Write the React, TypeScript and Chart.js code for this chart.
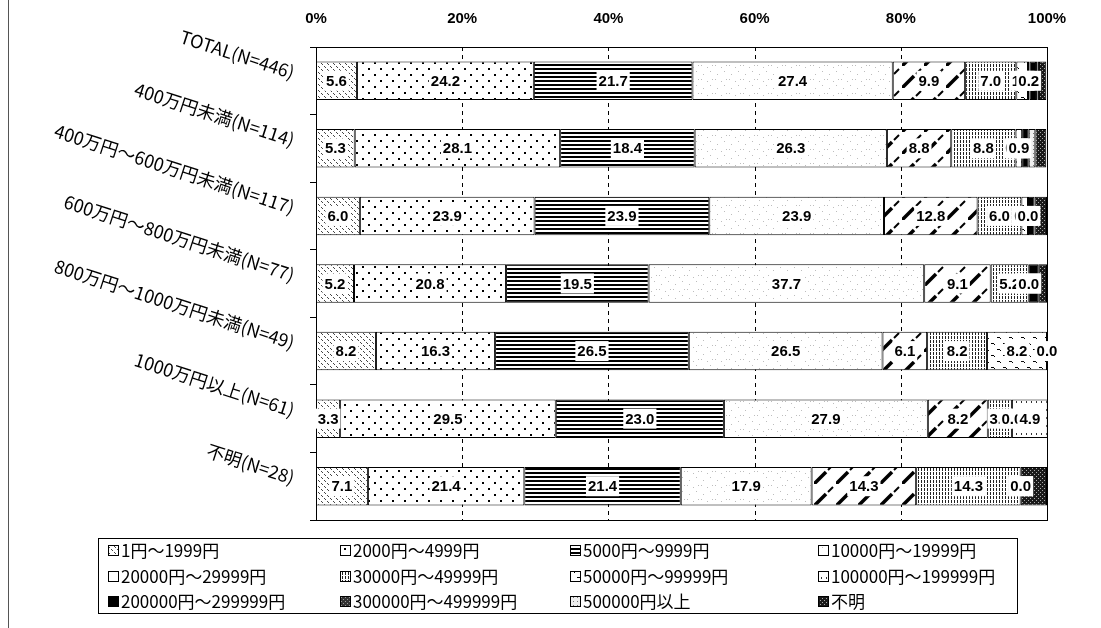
import React, { useEffect, useRef } from 'react';
import { Chart, registerables } from 'chart.js';

Chart.register(...registerables);

// ---------- data ----------
const categories = [
  'TOTAL(N=446)',
  '400万円未満(N=114)',
  '400万円～600万円未満(N=117)',
  '600万円～800万円未満(N=77)',
  '800万円～1000万円未満(N=49)',
  '1000万円以上(N=61)',
  '不明(N=28)',
];

const seriesNames = [
  '1円～1999円',
  '2000円～4999円',
  '5000円～9999円',
  '10000円～19999円',
  '20000円～29999円',
  '30000円～49999円',
  '50000円～99999円',
  '100000円～199999円',
  '200000円～299999円',
  '300000円～499999円',
  '500000円以上',
  '不明',
];

const yen1to1999 = [5.6, 5.3, 6.0, 5.2, 8.2, 3.3, 7.1];
const yen2000to4999 = [24.2, 28.1, 23.9, 20.8, 16.3, 29.5, 21.4];
const yen5000to9999 = [21.7, 18.4, 23.9, 19.5, 26.5, 23.0, 21.4];
const yen10000to19999 = [27.4, 26.3, 23.9, 37.7, 26.5, 27.9, 17.9];
const yen20000to29999 = [9.9, 8.8, 12.8, 9.1, 6.1, 8.2, 14.3];
const yen30000to49999 = [7.0, 8.8, 6.0, 5.2, 8.2, 3.3, 14.3];
const yen50000to99999 = [1.6, 0.0, 0.9, 0.0, 8.2, 0.0, 0.0];
const yen100000to199999 = [0.2, 0.9, 0.0, 0.0, 0.0, 4.9, 0.0];
const yen200000to299999 = [0.9, 0.9, 0.9, 1.3, 0.0, 0.0, 0.0];
const yen300000to499999 = [0.2, 0.0, 0.0, 0.0, 0.0, 0.0, 0.0];
const yen500000plus = [0.2, 0.9, 0.0, 0.0, 0.0, 0.0, 0.0];
const yenUnknown = [1.0, 1.5, 1.7, 1.2, 0.0, 0.0, 3.6];

const seriesValues = [
  yen1to1999, yen2000to4999, yen5000to9999, yen10000to19999,
  yen20000to29999, yen30000to49999, yen50000to99999, yen100000to199999,
  yen200000to299999, yen300000to499999, yen500000plus, yenUnknown,
];

const xTicks = [0, 20, 40, 60, 80, 100];
const labelledSeriesCount = 8;

// ---------- patterns ----------
function makePattern(w: number, h: number, bg: string, draw: (c: CanvasRenderingContext2D) => void): CanvasPattern | string {
  const cv = document.createElement('canvas');
  cv.width = w;
  cv.height = h;
  const c = cv.getContext('2d');
  if (!c) return bg;
  c.fillStyle = bg;
  c.fillRect(0, 0, w, h);
  draw(c);
  return c.createPattern(cv, 'repeat') || bg;
}

function buildPatterns() {
  const px = (c: CanvasRenderingContext2D, col: string, pts: number[][]) => {
    c.fillStyle = col;
    pts.forEach(([x, y, w = 1, h = 1]) => c.fillRect(x, y, w, h));
  };
  return [
    makePattern(6, 6, '#fff', (c) => px(c, '#444', [[0, 0], [1, 1], [3, 3], [4, 4]])),
    makePattern(12, 12, '#fff', (c) => px(c, '#000', [[2, 2, 2, 2], [8, 8, 2, 2]])),
    makePattern(4, 4, '#fff', (c) => px(c, '#000', [[0, 0, 4, 2]])),
    makePattern(14, 14, '#fff', (c) => px(c, '#bdbdbd', [[3, 4], [10, 1], [7, 11], [12, 9], [1, 9]])),
    makePattern(22, 22, '#fff', (c) => {
      c.strokeStyle = '#000';
      c.lineWidth = 3.5;
      c.beginPath();
      c.moveTo(0, 22);
      c.lineTo(12, 10);
      c.stroke();
      c.lineWidth = 2;
      c.beginPath();
      c.moveTo(14, 8);
      c.lineTo(19, 3);
      c.stroke();
    }),
    makePattern(3, 4, '#fff', (c) => px(c, '#222', [[0, 0, 1, 3]])),
    makePattern(12, 12, '#fff', (c) => px(c, '#000', [[1, 1, 3, 1], [4, 2, 1, 1], [7, 7, 3, 1], [10, 8, 1, 1]])),
    makePattern(5, 8, '#fff', (c) => px(c, '#333', [[1, 1, 1, 2]])),
    '#000',
    makePattern(4, 4, '#333', (c) => px(c, '#999', [[1, 1], [3, 3]])),
    makePattern(4, 4, '#eee', (c) => px(c, '#777', [[1, 1]])),
    makePattern(4, 4, '#1a1a1a', (c) => px(c, '#aaa', [[0, 0], [2, 2]])),
  ];
}

// ---------- plugins ----------
const frameGridPlugin = {
  id: 'frameGrid',
  beforeDatasetsDraw(chart: any) {
    const { ctx, chartArea } = chart;
    const xs = chart.scales.x;
    ctx.save();
    ctx.strokeStyle = '#000';
    ctx.lineWidth = 1;
    ctx.setLineDash([4, 4]);
    xTicks.slice(1, -1).forEach((t) => {
      const x = Math.round(xs.getPixelForValue(t)) + 0.5;
      ctx.beginPath();
      ctx.moveTo(x, chartArea.top);
      ctx.lineTo(x, chartArea.bottom);
      ctx.stroke();
    });
    ctx.restore();
  },
  afterDatasetsDraw(chart: any) {
    const { ctx, chartArea } = chart;
    ctx.save();
    ctx.strokeStyle = '#000';
    ctx.lineWidth = 1;
    ctx.strokeRect(
      Math.round(chartArea.left) + 0.5,
      Math.round(chartArea.top) + 0.5,
      Math.round(chartArea.right - chartArea.left),
      Math.round(chartArea.bottom - chartArea.top),
    );
    ctx.restore();
  },
};

const segmentLabelPlugin = {
  id: 'segmentLabels',
  afterDatasetsDraw(chart: any) {
    const ctx = chart.ctx;
    ctx.save();
    ctx.font = 'bold 15px "Liberation Sans", Arial, sans-serif';
    ctx.textAlign = 'center';
    ctx.textBaseline = 'middle';
    chart.data.datasets.forEach((ds: any, di: number) => {
      if (di >= labelledSeriesCount) return;
      const meta = chart.getDatasetMeta(di);
      meta.data.forEach((el: any, i: number) => {
        const v = ds.data[i] as number;
        const cx = (el.x + el.base) / 2;
        const cy = el.y;
        const txt = v.toFixed(1);
        const w = ctx.measureText(txt).width;
        ctx.fillStyle = '#fff';
        ctx.fillRect(cx - w / 2 - 2, cy - 10, w + 4, 20);
        ctx.fillStyle = '#000';
        ctx.fillText(txt, cx, cy + 1);
      });
    });
    ctx.restore();
  },
};

const categoryLabelPlugin = {
  id: 'categoryLabels',
  afterDraw(chart: any) {
    const ctx = chart.ctx;
    const ys = chart.scales.y;
    const xs = chart.scales.x;
    ctx.save();
    ctx.font = '18px "Noto Sans CJK JP", "Noto Sans", sans-serif';
    ctx.fillStyle = '#000';
    ctx.textAlign = 'right';
    ctx.textBaseline = 'middle';
    categories.forEach((lab, i) => {
      const y = ys.getPixelForValue(i);
      ctx.save();
      ctx.translate(xs.left - 22, y - 8);
      ctx.rotate((18 * Math.PI) / 180);
      ctx.fillText(lab, 0, 0);
      ctx.restore();
    });
    ctx.restore();
  },
};

function makeLegendPlugin(patterns: (CanvasPattern | string)[]) {
  return {
    id: 'customLegend',
    afterDraw(chart: any) {
      const ctx = chart.ctx;
      const boxL = 98;
      const boxT = 538;
      const boxR = 1017;
      const boxB = 613;
      const colX = [108, 340, 570, 818];
      const rowY = [550, 576, 601];
      ctx.save();
      ctx.strokeStyle = '#000';
      ctx.lineWidth = 1;
      ctx.strokeRect(boxL + 0.5, boxT + 0.5, boxR - boxL, boxB - boxT);
      ctx.font = '17px "Noto Sans CJK JP", "Noto Sans", sans-serif';
      ctx.textAlign = 'left';
      ctx.textBaseline = 'middle';
      seriesNames.forEach((name, i) => {
        const x = colX[i % 4];
        const y = rowY[Math.floor(i / 4)];
        ctx.fillStyle = patterns[i] as any;
        ctx.fillRect(x, y - 5, 10, 10);
        ctx.strokeStyle = '#000';
        ctx.strokeRect(x + 0.5, y - 4.5, 10, 10);
        ctx.fillStyle = '#000';
        ctx.fillText(name, x + 13, y + 1);
      });
      ctx.restore();
    },
  };
}

const pageEdgePlugin = {
  id: 'pageEdge',
  afterDraw(chart: any) {
    const ctx = chart.ctx;
    ctx.save();
    ctx.strokeStyle = '#555';
    ctx.lineWidth = 1;
    ctx.beginPath();
    ctx.moveTo(8.5, 0);
    ctx.lineTo(8.5, 628);
    ctx.stroke();
    ctx.restore();
  },
};

export default function App() {
  const ref = useRef<HTMLCanvasElement | null>(null);

  useEffect(() => {
    document.body.style.margin = '0';
    document.body.style.background = '#fff';
    if (!ref.current) return;
    const patterns = buildPatterns();
    const chart = new Chart(ref.current, {
      type: 'bar',
      data: {
        labels: categories,
        datasets: seriesValues.map((vals, i) => ({
          label: seriesNames[i],
          data: vals,
          backgroundColor: patterns[i] as any,
          borderColor: '#000',
          borderWidth: 1,
          borderSkipped: false,
          categoryPercentage: 1,
          barPercentage: 0.57,
        })),
      },
      options: {
        indexAxis: 'y',
        animation: false,
        responsive: true,
        maintainAspectRatio: false,
        devicePixelRatio: 1,
        layout: { padding: { left: 310, right: 54, top: 10, bottom: 108 } },
        plugins: {
          legend: { display: false },
          tooltip: { enabled: false },
          title: { display: false },
        },
        scales: {
          x: {
            type: 'linear',
            position: 'top',
            stacked: true,
            min: 0,
            max: 100,
            afterBuildTicks: (axis: any) => {
              axis.ticks = xTicks.map((v) => ({ value: v }));
            },
            afterFit: (axis: any) => {
              axis.height = 37;
            },
            ticks: {
              padding: 19,
              color: '#000',
              font: { family: '"Liberation Sans Narrow", "Liberation Sans", Arial', weight: 'bold', size: 15 },
              callback: (v: any) => `${v}%`,
            },
            grid: { display: false, drawTicks: false },
            border: { display: false },
          },
          y: {
            type: 'category',
            stacked: true,
            ticks: { display: false },
            afterFit: (axis: any) => {
              axis.width = 6;
              axis.paddingTop = 0;
              axis.paddingBottom = 0;
            },
            grid: { drawOnChartArea: false, drawTicks: true, tickLength: 6, color: '#000', offset: true },
            border: { display: true, color: '#000' },
          },
        },
      },
      plugins: [frameGridPlugin, segmentLabelPlugin, categoryLabelPlugin, makeLegendPlugin(patterns), pageEdgePlugin],
    });
    return () => chart.destroy();
  }, []);

  return (
    <div style={{ width: 1101, height: 628, position: 'relative', background: '#fff' }}>
      <canvas ref={ref} />
    </div>
  );
}
